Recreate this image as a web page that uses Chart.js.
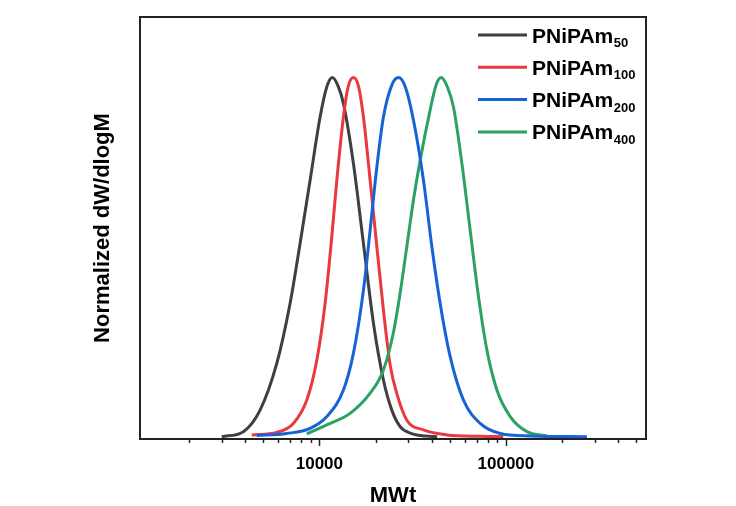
<!DOCTYPE html>
<html><head><meta charset="utf-8">
<script src="https://cdn.jsdelivr.net/npm/chart.js@4"></script>
<style>html,body{margin:0;padding:0;background:#fff}</style>
</head><body>
<canvas id="c" width="736" height="506" style="width:736px;height:506px;display:block"></canvas>
<script>
// ---- data ----
const seriesNames = ['PNiPAm', 'PNiPAm', 'PNiPAm', 'PNiPAm'];
const seriesSubs = ['50', '100', '200', '400'];
const seriesColors = ['#3f3f3f', '#e8393e', '#1862d6', '#2ba263'];

const mw50 = [2995, 3912, 4808, 5908, 6963, 7879, 8916, 10087, 10957, 11740, 12647, 13453, 15218, 17225, 19490, 22045, 24454, 27100, 30664, 36920, 42800];
const dw50 = [0, 0.014, 0.074, 0.204, 0.371, 0.538, 0.714, 0.890, 0.974, 1.0, 0.974, 0.928, 0.761, 0.538, 0.316, 0.158, 0.074, 0.028, 0.010, 0.002, 0];

const mw100 = [4338, 5908, 7252, 8560, 9685, 10729, 11654, 12399, 13453, 14256, 15218, 16233, 17225, 18707, 20322, 22045, 23948, 26016, 29440, 36140, 48260, 72800, 96720];
const dw100 = [0.005, 0.012, 0.037, 0.102, 0.213, 0.371, 0.557, 0.714, 0.890, 0.974, 1.0, 0.974, 0.890, 0.714, 0.529, 0.353, 0.20, 0.12, 0.046, 0.019, 0.005, 0.001, 0];

const mw200 = [4615, 6687, 8916, 10957, 13453, 15218, 17225, 18707, 20322, 22045, 24454, 26535, 28830, 31950, 36140, 40090, 44410, 50260, 59230, 72800, 93200, 135000, 272000];
const dw200 = [0.003, 0.009, 0.023, 0.056, 0.130, 0.232, 0.408, 0.575, 0.751, 0.890, 0.979, 1.0, 0.975, 0.881, 0.714, 0.529, 0.371, 0.223, 0.102, 0.037, 0.009, 0.002, 0];

const mw400 = [8560, 10957, 14609, 18707, 22045, 24946, 27100, 29440, 31950, 34700, 39260, 42290, 44970, 48430, 52350, 58070, 64330, 71290, 79100, 89480, 105460, 129640, 165960];
const dw400 = [0.008, 0.033, 0.065, 0.121, 0.186, 0.29, 0.40, 0.53, 0.66, 0.77, 0.91, 0.98, 1.0, 0.975, 0.918, 0.761, 0.575, 0.390, 0.241, 0.130, 0.056, 0.014, 0.002];

const xTickValues = [2000, 3000, 4000, 5000, 6000, 7000, 8000, 9000, 10000, 20000, 30000, 40000, 50000, 60000, 70000, 80000, 90000, 100000, 200000, 300000, 400000, 500000];
const xTickLabels = [10000, 100000];
// ---------------------------------------

const FONT = "'Liberation Sans', Arial, sans-serif";
const xs = [mw50, mw100, mw200, mw400];
const ys = [dw50, dw100, dw200, dw400];

const datasets = xs.map((mw, i) => ({
  label: seriesNames[i] + seriesSubs[i],
  data: mw.map((m, j) => ({ x: m, y: ys[i][j] })),
  borderColor: seriesColors[i],
  backgroundColor: seriesColors[i],
  borderWidth: 3,
  pointRadius: 0,
  showLine: true,
  fill: false,
  cubicInterpolationMode: 'monotone',
  order: [3, 2, 0, 1][i]
}));

const framePlugin = {
  id: 'frame',
  afterDraw(chart) {
    const { ctx, chartArea: a, scales } = chart;
    const xs = scales.x;
    ctx.save();
    ctx.strokeStyle = '#222';
    ctx.lineWidth = 2;
    ctx.strokeRect(a.left, a.top, a.right - a.left, a.bottom - a.top);
    ctx.lineWidth = 1.5;
    xTickValues.forEach(v => {
      const px = Math.round(xs.getPixelForValue(v)) + 0.5;
      const len = xTickLabels.includes(v) ? 7 : 4;
      ctx.beginPath();
      ctx.moveTo(px, a.bottom);
      ctx.lineTo(px, a.bottom + len);
      ctx.stroke();
    });
    // legend
    chart.data.datasets.forEach((ds, i) => {
      const y = 35 + i * 32.3;
      ctx.strokeStyle = ds.borderColor;
      ctx.lineWidth = 3;
      ctx.beginPath();
      ctx.moveTo(478, y);
      ctx.lineTo(527, y);
      ctx.stroke();
      ctx.fillStyle = '#000';
      ctx.textBaseline = 'alphabetic';
      ctx.textAlign = 'left';
      ctx.font = 'bold 21px ' + FONT;
      ctx.fillText(seriesNames[i], 532, y + 7.5);
      const w = ctx.measureText(seriesNames[i]).width;
      ctx.font = 'bold 13px ' + FONT;
      ctx.fillText(seriesSubs[i], 532 + w + 0.5, y + 12);
    });
    ctx.restore();
  }
};

new Chart(document.getElementById('c'), {
  type: 'scatter',
  data: { datasets },
  options: {
    responsive: false,
    animation: false,
    layout: { padding: { top: 17, right: 90, left: 0, bottom: 0 } },
    plugins: { legend: { display: false }, tooltip: { enabled: false } },
    scales: {
      x: {
        type: 'logarithmic',
        min: 1092,
        max: 563700,
        grid: { display: false },
        border: { display: false },
        afterBuildTicks: (s) => { s.ticks = xTickValues.map(v => ({ value: v })); },
        afterFit: (s) => { s.height = 67; },
        ticks: {
          autoSkip: false,
          maxRotation: 0,
          padding: 7,
          color: '#000',
          font: { family: FONT, size: 17, weight: 'bold' },
          callback: (v) => xTickLabels.includes(v) ? String(v) : ''
        },
        title: {
          display: true,
          text: 'MWt',
          color: '#000',
          padding: { top: 0, bottom: -3 },
          font: { family: FONT, size: 22, weight: 'bold' }
        }
      },
      y: {
        type: 'linear',
        min: -0.0064,
        max: 1.1686,
        grid: { display: false },
        border: { display: false },
        ticks: { display: false },
        afterFit: (s) => { s.width = 140; },
        title: {
          display: true,
          text: 'Normalized dW/dlogM',
          color: '#000',
          padding: { top: 90, bottom: 0 },
          font: { family: FONT, size: 22, weight: 'bold' }
        }
      }
    }
  },
  plugins: [framePlugin]
});
</script>
</body></html>
